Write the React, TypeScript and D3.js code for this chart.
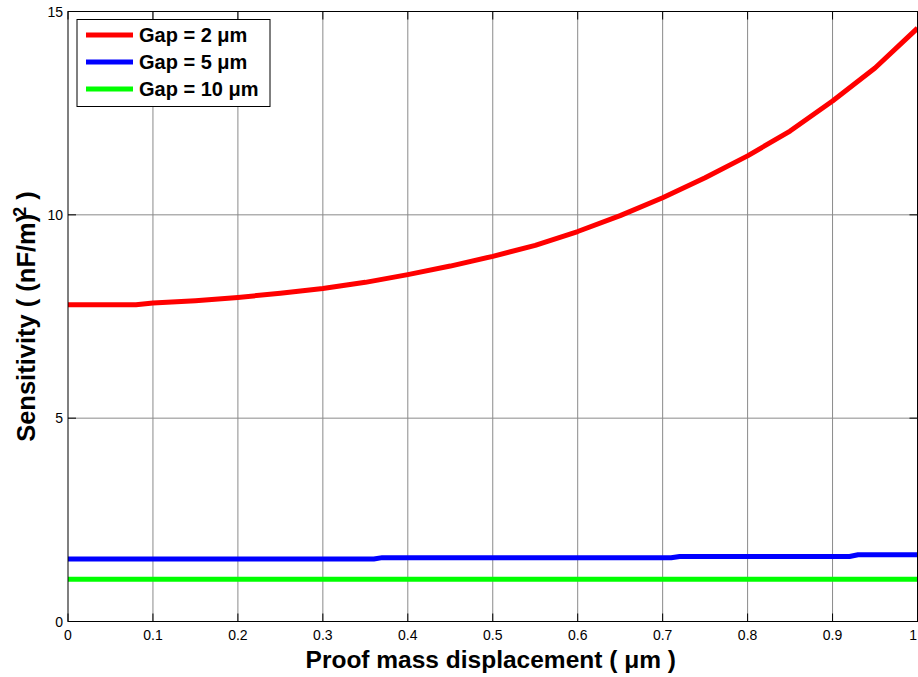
import React from "react";
import * as d3 from "d3";

const redX = [0, 0.05, 0.08, 0.1, 0.15, 0.2, 0.25, 0.3, 0.35, 0.4, 0.45, 0.5, 0.55, 0.6, 0.65, 0.7, 0.75, 0.8, 0.85, 0.9, 0.95, 1.0];
const redY = [7.79, 7.79, 7.79, 7.83, 7.89, 7.97, 8.07, 8.19, 8.34, 8.53, 8.74, 8.98, 9.25, 9.59, 9.98, 10.42, 10.91, 11.45, 12.06, 12.8, 13.61, 14.59];
const blueX = [0, 0.36, 0.37, 0.71, 0.72, 0.92, 0.93, 1.0];
const blueY = [1.535, 1.535, 1.57, 1.57, 1.6, 1.6, 1.64, 1.64];
const greenX = [0, 1.0];
const greenY = [1.04, 1.04];

const xTicks = [0, 0.1, 0.2, 0.3, 0.4, 0.5, 0.6, 0.7, 0.8, 0.9, 1];
const xTickLabels = ["0", "0.1", "0.2", "0.3", "0.4", "0.5", "0.6", "0.7", "0.8", "0.9", "1"];
const yTicks = [0, 5, 10, 15];
const yTickLabels = ["0", "5", "10", "15"];
const seriesNames = ["Gap = 2 \u03bcm", "Gap = 5 \u03bcm", "Gap = 10 \u03bcm"];
const seriesColors = ["#ff0000", "#0000ff", "#00ff00"];

const W = 918;
const H = 677;
const L = 68;
const R = 917.5;
const T = 11.5;
const B = 621.5;

export default function App() {
  const x = d3.scaleLinear().domain([0, 1]).range([L, R]);
  const y = d3.scaleLinear().domain([0, 15]).range([B, T]);
  const line = d3
    .line<[number, number]>()
    .x((d) => x(d[0]))
    .y((d) => y(d[1]));
  const series = [
    redX.map((v, i) => [v, redY[i]] as [number, number]),
    blueX.map((v, i) => [v, blueY[i]] as [number, number]),
    greenX.map((v, i) => [v, greenY[i]] as [number, number]),
  ];
  const font = "'Liberation Sans', Arial, Helvetica, sans-serif";
  const tickLen = 8;
  const lastIdx = xTicks.length - 1;

  return (
    <svg
      width={W}
      height={H}
      style={{ position: "absolute", left: 0, top: 0, background: "#fff" }}
      fontFamily={font}
    >
      <rect x={0} y={0} width={W} height={H} fill="#fff" />
      {/* grid */}
      {xTicks.slice(1, -1).map((t) => (
        <line key={"gx" + t} x1={x(t)} x2={x(t)} y1={T} y2={B} stroke="#8a8a8a" strokeWidth={1} />
      ))}
      {yTicks.slice(1, -1).map((t) => (
        <line key={"gy" + t} x1={L} x2={R} y1={y(t)} y2={y(t)} stroke="#8a8a8a" strokeWidth={1} />
      ))}
      {/* ticks */}
      {xTicks.map((t) => (
        <g key={"tx" + t}>
          <line x1={x(t)} x2={x(t)} y1={B} y2={B - tickLen} stroke="#000" strokeWidth={1} />
          <line x1={x(t)} x2={x(t)} y1={T} y2={T + tickLen} stroke="#000" strokeWidth={1} />
        </g>
      ))}
      {yTicks.map((t) => (
        <g key={"ty" + t}>
          <line x1={L} x2={L + tickLen} y1={y(t)} y2={y(t)} stroke="#000" strokeWidth={1} />
          <line x1={R} x2={R - tickLen} y1={y(t)} y2={y(t)} stroke="#000" strokeWidth={1} />
        </g>
      ))}
      {/* series */}
      {series.map((s, i) => (
        <path key={"s" + i} d={line(s) || ""} fill="none" stroke={seriesColors[i]} strokeWidth={5} strokeLinejoin="round" />
      ))}
      {/* axes box */}
      <rect x={L} y={T} width={R - L} height={B - T} fill="none" stroke="#000" strokeWidth={1} />
      {/* tick labels */}
      {xTicks.map((t, i) => (
        <text
          key={"lx" + t}
          x={i === lastIdx ? W - 1 : x(t)}
          y={640}
          fontSize={14}
          textAnchor={i === lastIdx ? "end" : "middle"}
          fill="#000"
        >
          {xTickLabels[i]}
        </text>
      ))}
      {yTicks.map((t, i) => (
        <text key={"ly" + t} x={63} y={y(t) + 5} fontSize={14} textAnchor="end" fill="#000">
          {yTickLabels[i]}
        </text>
      ))}
      {/* axis labels */}
      <text x={(L + R) / 2 - 2} y={668} fontSize={24.5} fontWeight="bold" textAnchor="middle" fill="#000">
        Proof mass displacement (  {"\u03bc"}m )
      </text>
      <text
        transform={`translate(35,${(T + B) / 2}) rotate(-90)`}
        fontSize={25.5}
        fontWeight="bold"
        textAnchor="middle"
        fill="#000"
      >
        Sensitivity ( (nF/m)
        <tspan dy={-9} dx={-3} fontSize={18}>2</tspan>
        <tspan dy={9}> )</tspan>
      </text>
      {/* legend */}
      <rect x={77} y={19.5} width={193} height={87} fill="#fff" stroke="#000" strokeWidth={1} />
      {seriesNames.map((n, i) => (
        <g key={"lg" + i}>
          <line x1={86} x2={133} y1={35 + i * 27} y2={35 + i * 27} stroke={seriesColors[i]} strokeWidth={5} />
          <text x={139} y={42 + i * 27} fontSize={20} fontWeight="bold" fill="#000">
            {n}
          </text>
        </g>
      ))}
    </svg>
  );
}
